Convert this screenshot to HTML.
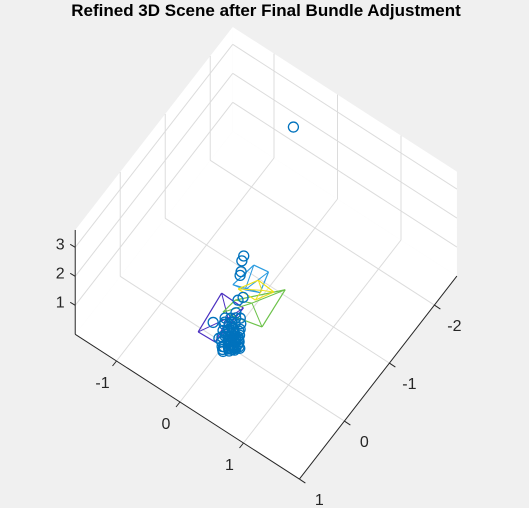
<!DOCTYPE html>
<html><head><meta charset="utf-8">
<style>
html,body{margin:0;padding:0;background:#f0f0f0;}
svg{display:block;font-family:"Liberation Sans",Arial,sans-serif;}
</style></head>
<body>
<svg id="chart" width="529" height="508" viewBox="0 0 529 508">
  <rect x="0" y="0" width="529" height="508" fill="#f0f0f0"/>
  <text x="266" y="16" text-anchor="middle" font-size="17" font-weight="bold" fill="#000">Refined 3D Scene after Final Bundle Adjustment</text>
  <g id="axes"></g>
</svg>
<script>
// axis limits
const aLim = [-1.65, 1.88];
const bLim = [-2.5, 1.0];
const zLim = [0, 3.6];
const aTicks = [-1, 0, 1];
const bTicks = [-2, -1, 0, 1];
const zTicks = [1, 2, 3];
const aTickLabels = ["-1", "0", "1"];
const bTickLabels = ["-2", "-1", "0", "1"];
const zTickLabels = ["1", "2", "3"];

// point cloud (a, b, z)
const ptA = [-0.34, -0.52, -0.50, -0.42, -0.40, -0.19, -0.22, -0.14, -0.30, -0.18,
  -0.21,-0.15,-0.10,-0.05,-0.17,-0.12,-0.06,0.00,-0.13,-0.08,-0.02,0.04,-0.09,-0.03,0.03,0.08,
  -0.05,0.01,0.06,0.11,-0.01,0.05,0.10,0.14,0.02,0.08,0.13,0.17,0.04,0.10,0.15,0.19,0.07,0.12,0.00,-0.07,0.09,-0.11,
  -0.04,0.02,0.07,-0.08,-0.01,0.05,0.11,-0.06,0.00,0.06,0.12,0.03,0.09,-0.02,0.04,0.15,0.08,0.01,-0.10,0.13];
const ptB = [-2.0, -1.15, -1.08, -0.95, -0.90, -0.67, -0.60, -0.44, -0.16, -0.25,
  -0.30,-0.34,-0.38,-0.41,-0.22,-0.26,-0.31,-0.35,-0.14,-0.18,-0.23,-0.28,-0.06,-0.11,-0.16,-0.21,
  0.00,-0.05,-0.10,-0.15,0.05,0.00,-0.05,-0.10,0.08,0.03,-0.02,-0.07,0.10,0.05,0.00,-0.06,0.02,-0.03,-0.20,-0.12,-0.12,-0.02,
  -0.24,-0.19,-0.14,-0.20,-0.13,-0.08,-0.04,-0.09,-0.07,-0.02,0.01,-0.12,-0.09,-0.16,-0.25,-0.03,-0.18,0.04,-0.30,-0.13];
const ptZ = [3.0, 0, 0, 0, 0, 0, 0, 0, 0, 0,
  0,0,0,0,0,0,0,0,0,0,0,0,0,0,0,0,0,0,0,0,0,0,0,0,0,0,0,0,0,0,0,0,0,0,0,0,0,0,
  0,0,0,0,0,0,0,0,0,0,0,0,0,0,0,0,0,0,0,0];

// cameras: quad corners (a,b) + apex, at z=0
const camNames = ["camera-purple", "camera-green", "camera-blue", "camera-yellow"];
const camColors = ["#4a2fc0", "#6cc24a", "#2a9be0", "#ece01a"];
const camQuadA = [[-0.45,-0.10,-0.12,-0.38],[-0.25,0.19,0.25,-0.28],[-0.34,-0.13,-0.05,-0.40],[-0.31,-0.17,0.09,-0.04]];
const camQuadB = [[-0.56,-0.55,0.05,0.06],[-0.58,-1.07,-0.47,-0.35],[-1.12,-1.15,-0.85,-0.74],[-0.73,-0.98,-0.96,-0.73]];
const camApexA = [-0.18, -0.05, -0.23, -0.05];
const camApexB = [-0.32, -0.67, -0.77, -0.89];

const NS = "http://www.w3.org/2000/svg";
const g = document.getElementById("axes");
function px(a,b,z){ return 180 + a*63.5 + (b-1)*(-45); }
function py(a,b,z){ return 402 + a*41 + (b-1)*58 - z*29; }
function mk(tag, attrs){ const e=document.createElementNS(NS,tag); for(const k in attrs) e.setAttribute(k,attrs[k]); g.appendChild(e); return e; }
function line(p,q,stroke,w){ return mk("line",{x1:px(...p),y1:py(...p),x2:px(...q),y2:py(...q),stroke:stroke,"stroke-width":w}); }
function poly(pts,fill){ return mk("polygon",{points:pts.map(p=>px(...p)+","+py(...p)).join(" "),fill:fill,stroke:"none"}); }

const [a0,a1]=aLim,[b0,b1]=bLim,[z0,z1]=zLim;
let e;
e=poly([[a0,b0,z0],[a1,b0,z0],[a1,b1,z0],[a0,b1,z0]],"#fff");


e=poly([[a0,b0,z0],[a0,b1,z0],[a0,b1,z1],[a0,b0,z1]],"#fff");


e=poly([[a0,b0,z0],[a1,b0,z0],[a1,b0,z1],[a0,b0,z1]],"#fff");



const GC="#dcdcdc";
aTicks.forEach(t=>{
  e=line([t,b0,z0],[t,b1,z0],GC,1);
  
  
  e=line([t,b0,z0],[t,b0,z1],GC,1);
  
  
});
bTicks.forEach(t=>{
  if(t<=b0||t>=b1) return;
  e=line([a0,t,z0],[a1,t,z0],GC,1);
  
  
  e=line([a0,t,z0],[a0,t,z1],GC,1);
  
  
});
zTicks.forEach(t=>{
  e=line([a0,b1,t],[a0,b0,t],GC,1);
  
  
  e=line([a0,b0,t],[a1,b0,t],GC,1);
  
  
});

const AC="#262626";
e=line([a0,b1,z0],[a1,b1,z0],AC,1);


e=line([a1,b1,z0],[a1,b0,z0],AC,1);


e=line([a0,b1,z0],[a0,b1,z1],AC,1);



aTicks.forEach((t,i)=>{
  const x=px(t,b1,0), y=py(t,b1,0);
  e=mk("line",{x1:x,y1:y,x2:x-4,y2:y+5,stroke:AC,"stroke-width":1});
  
  
  e=mk("text",{x:x-14,y:y+27,"text-anchor":"middle","font-size":16,fill:"#262626"});
  e.textContent=aTickLabels[i];
  
  
});
bTicks.forEach((t,i)=>{
  if(t<b0) return;
  const x=px(a1,t,0), y=py(a1,t,0);
  e=mk("line",{x1:x,y1:y,x2:x+6,y2:y+4,stroke:AC,"stroke-width":1});
  
  
  e=mk("text",{x:x+20,y:y+26,"text-anchor":"middle","font-size":16,fill:"#262626"});
  e.textContent=bTickLabels[i];
  
  
});
zTicks.forEach((t,i)=>{
  const x=px(a0,b1,t), y=py(a0,b1,t);
  e=mk("line",{x1:x,y1:y,x2:x-5,y2:y-3,stroke:AC,"stroke-width":1});
  
  
  e=mk("text",{x:x-15,y:y+2,"text-anchor":"middle","font-size":16,fill:"#262626"});
  e.textContent=zTickLabels[i];
  
  
});

camNames.forEach((nm,i)=>{
  const q=camQuadA[i].map((a,k)=>[a,camQuadB[i][k],0]);
  const ap=[camApexA[i],camApexB[i],0];
  for(let k=0;k<4;k++){
    e=line(q[k],q[(k+1)%4],camColors[i],1.2);
    
    
    e=line(ap,q[k],camColors[i],1);
    
    
  }
});

ptA.forEach((a,i)=>{
  e=mk("circle",{cx:px(a,ptB[i],ptZ[i]),cy:py(a,ptB[i],ptZ[i]),r:5,fill:"none",stroke:"#0072bd","stroke-width":1.3});
  
  
});
</script>
</body></html>
